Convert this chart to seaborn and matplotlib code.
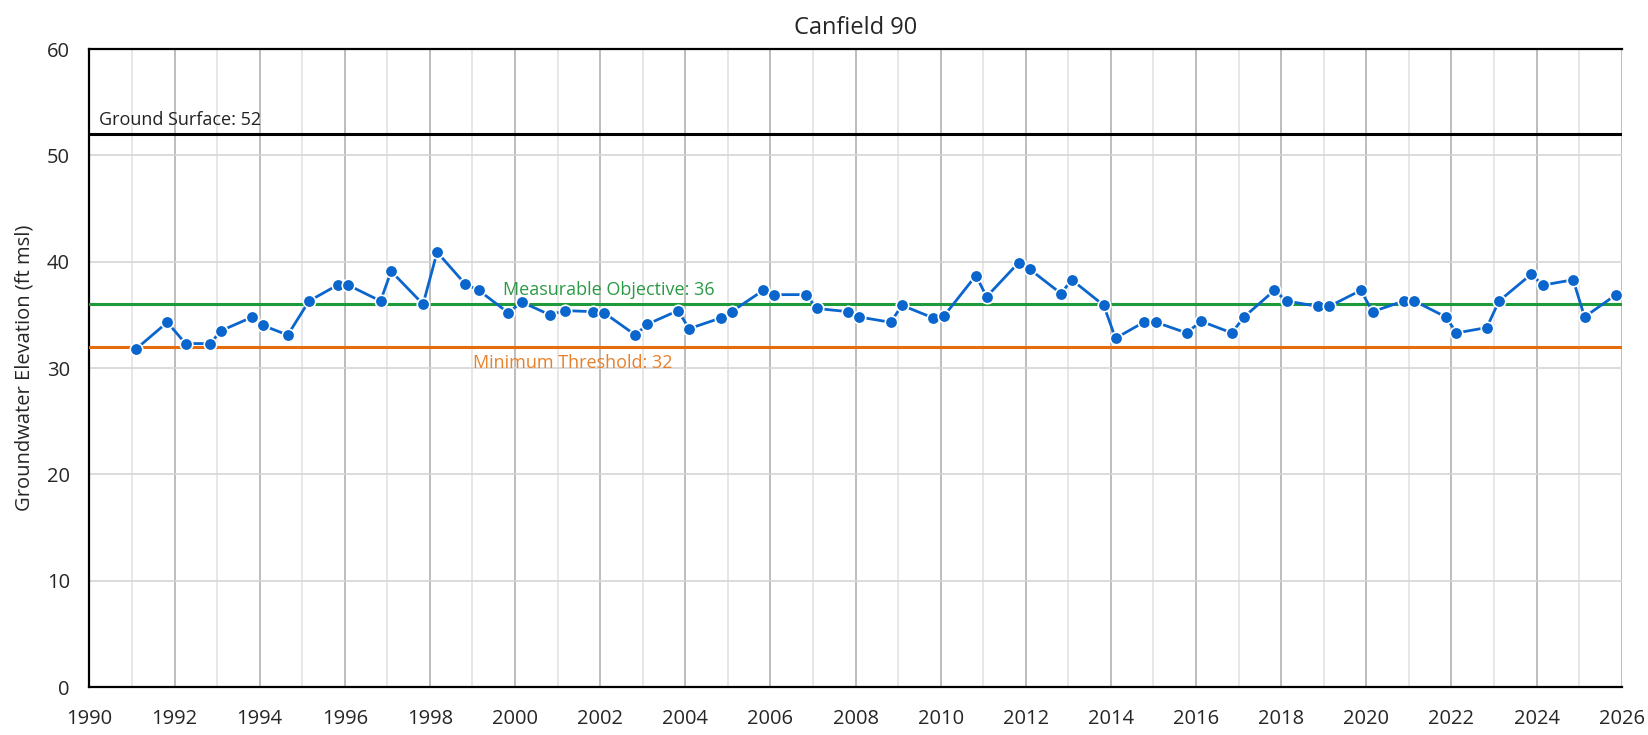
import numpy as np
import pandas as pd
import seaborn as sns
import matplotlib.pyplot as plt
from matplotlib.ticker import MultipleLocator

years = [
    1991.10, 1991.83, 1992.26, 1992.84, 1993.09, 1993.83, 1994.08, 1994.66,
    1995.16, 1995.83, 1996.08, 1996.84, 1997.09, 1997.84, 1998.17, 1998.83,
    1999.15, 1999.84, 2000.16, 2000.82, 2001.17, 2001.84, 2002.09, 2002.83,
    2003.10, 2003.83, 2004.09, 2004.83, 2005.09, 2005.83, 2006.08, 2006.84,
    2007.09, 2007.82, 2008.08, 2008.83, 2009.09, 2009.83, 2010.08, 2010.83,
    2011.08, 2011.83, 2012.09, 2012.83, 2013.08, 2013.83, 2014.11, 2014.77,
    2015.06, 2015.78, 2016.12, 2016.84, 2017.13, 2017.84, 2018.13, 2018.86,
    2019.13, 2019.87, 2020.15, 2020.88, 2021.13, 2021.87, 2022.12, 2022.83,
    2023.12, 2023.87, 2024.16, 2024.86, 2025.13, 2025.87,
]
elevation = [
    31.8, 34.3, 32.3, 32.3, 33.5, 34.8, 34.0, 33.1,
    36.3, 37.8, 37.8, 36.3, 39.1, 36.0, 40.9, 37.9,
    37.3, 35.2, 36.2, 35.0, 35.4, 35.3, 35.2, 33.1,
    34.1, 35.4, 33.7, 34.7, 35.3, 37.3, 36.9, 36.9,
    35.6, 35.3, 34.8, 34.3, 35.9, 34.7, 34.9, 38.7,
    36.7, 39.9, 39.3, 37.0, 38.3, 35.9, 32.8, 34.3,
    34.3, 33.3, 34.4, 33.3, 34.8, 37.3, 36.3, 35.8,
    35.8, 37.3, 35.3, 36.3, 36.3, 34.8, 33.3, 33.8,
    36.3, 38.8, 37.8, 38.3, 34.8, 36.9,
]

ground_surface = 52
measurable_objective = 36
minimum_threshold = 32

df = pd.DataFrame({"year": years, "elevation": elevation})

sns.set_theme(style="white")
plt.rcParams['font.family'] = ['Open Sans', 'DejaVu Sans']

fig = plt.figure(figsize=(16.49, 7.35), dpi=100)
ax = fig.add_axes([0.0542, 0.0653, 0.9292, 0.868])

# reference lines
ax.axhline(ground_surface, color="black", lw=2.2, zorder=3)
ax.axhline(measurable_objective, color="#1f9a3b", lw=2.2, zorder=3)
ax.axhline(minimum_threshold, color="#e46c0a", lw=2.2, zorder=3)

sns.lineplot(data=df, x="year", y="elevation", ax=ax, color="#0a66cc", lw=2,
             marker="o", markersize=9, markeredgecolor="white",
             markeredgewidth=1.2, zorder=4)

ax.text(1990.23, ground_surface + 0.5, f"Ground Surface: {ground_surface}",
        fontsize=13, color="#222222", va="bottom")
ax.text(1999.71, measurable_objective + 0.5, f"Measurable Objective: {measurable_objective}",
        fontsize=13, color="#2a9a45", va="bottom")
ax.text(1999.01, minimum_threshold - 0.7, f"Minimum Threshold: {minimum_threshold}",
        fontsize=13, color="#e8802a", va="top")

ax.set_xlim(1990, 2026)
ax.set_ylim(0, 60)
ax.xaxis.set_major_locator(MultipleLocator(2))
ax.xaxis.set_minor_locator(MultipleLocator(1))
ax.yaxis.set_major_locator(MultipleLocator(10))

ax.grid(which="major", axis="x", color="#bdbdbd", lw=1.4)
ax.grid(which="minor", axis="x", color="#e3e3e3", lw=1.2)
ax.grid(which="major", axis="y", color="#d6d6d6", lw=1.2)
ax.set_axisbelow(True)

for side in ["left", "bottom", "top"]:
    ax.spines[side].set_color("black")
    ax.spines[side].set_linewidth(1.6)
ax.spines["right"].set_visible(False)

ax.tick_params(axis="both", which="major", direction="out", length=7, width=1.4,
               color="black", labelsize=14.5, pad=7)
ax.tick_params(axis="x", which="minor", length=0)
ax.tick_params(axis="x", pad=9)

ax.set_xlabel("")
ax.set_ylabel("Groundwater Elevation (ft msl)", fontsize=14.5, labelpad=9)
ax.set_title("Canfield 90", fontsize=17, pad=11)

fig.savefig("out.png", dpi=100)
